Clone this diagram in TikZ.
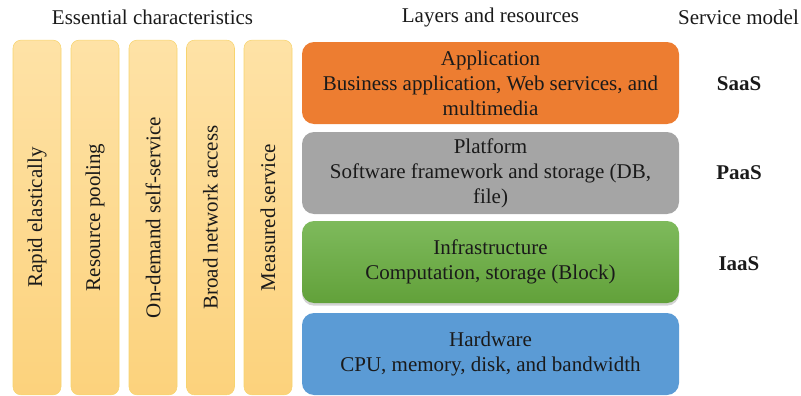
\documentclass[tikz,border=0pt]{standalone}
\usepackage{fontspec}
\setmainfont{Liberation Serif}
\usetikzlibrary{shadows}

\definecolor{charLeft}{HTML}{FEE2A6}
\definecolor{charRight}{HTML}{FCD27C}
\definecolor{charLine}{HTML}{F7D46E}
\definecolor{appOrange}{HTML}{ED7D31}
\definecolor{platGray}{HTML}{A5A5A5}
\definecolor{infraTop}{HTML}{7EBA5C}
\definecolor{infraBottom}{HTML}{62A13A}
\definecolor{hwBlue}{HTML}{5B9BD5}
\definecolor{textDark}{HTML}{1A1A1A}

\begin{document}
\begin{tikzpicture}[
    x=0.75pt, y=-0.75pt,
    font=\fontsize{15.75}{18.75}\selectfont, text=textDark,
    charbox/.style={rectangle, draw=charLine, rounded corners=6pt, rotate=90,
        top color=charLeft, bottom color=charRight,
        minimum width=266pt, minimum height=36pt},
    layerbox/.style={rectangle, rounded corners=9pt, align=center,
        minimum width=282.75pt, minimum height=61.5pt},
    model/.style={font=\fontsize{15.75}{18.75}\selectfont\bfseries}
]
\useasboundingbox (0,0) rectangle (801,396);

% Headings
\node (hchar) at (152.5,17) {Essential characteristics};
\node (hlayer) at (490.5,17) {Layers and resources};
\node (hmodel) at (738.5,17) {Service model};

% Essential characteristics
\node[charbox] (rapid) at (37,217.5) {Rapid elastically};
\node[charbox] (pooling) at (95,217.5) {Resource pooling};
\node[charbox] (ondemand) at (153,217.5) {On-demand self-service};
\node[charbox] (broad) at (210.5,217.5) {Broad network access};
\node[charbox] (measured) at (268,217.5) {Measured service};

% Layers and resources
\node[layerbox, fill=appOrange] (app) at (490.5,83) {Application\\
    Business application, Web services, and\\ multimedia};
\node[layerbox, fill=platGray] (plat) at (490.5,173) {Platform\\
    Software framework and storage (DB,\\ file)};
\node[layerbox, top color=infraTop, bottom color=infraBottom,
    drop shadow={opacity=0.35, shadow xshift=0pt, shadow yshift=-2pt}] (infra) at (490.5,262) {Infrastructure\\
    Computation, storage (Block)};
\node[layerbox, fill=hwBlue] (hw) at (490.5,354) {Hardware\\
    CPU, memory, disk, and bandwidth};

% Service model
\node[model] (saas) at (739,84) {SaaS};
\node[model] (paas) at (739,173) {PaaS};
\node[model] (iaas) at (739,264) {IaaS};

\end{tikzpicture}
\end{document}
